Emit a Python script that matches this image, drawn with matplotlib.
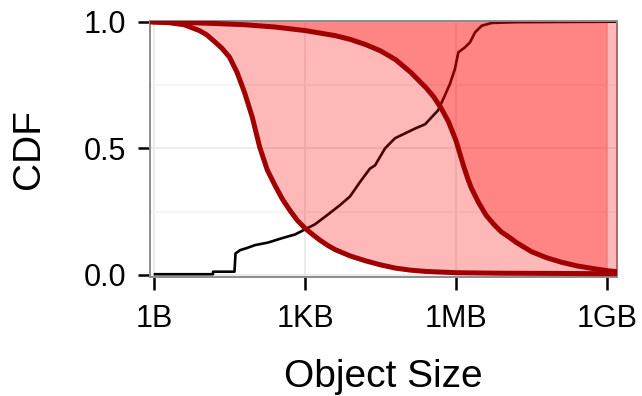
import numpy as np
import matplotlib.pyplot as plt

# object sizes as log2(bytes); 0 = 1B, 10 = 1KB, 20 = 1MB, 30 = 1GB
lo_exp = [-0.26, 0, 1, 2, 3, 3.5, 4, 4.5, 5, 5.5, 6, 6.5, 7, 7.5, 8, 8.5, 9,
          9.5, 10, 10.5, 11, 11.5, 12, 13, 14, 15, 16, 17, 18, 20, 23, 30.66]
lo_frac = [1.0, 0.999, 0.996, 0.988, 0.965, 0.948, 0.922, 0.895, 0.86, 0.8,
           0.72, 0.625, 0.505, 0.415, 0.355, 0.3, 0.255, 0.215, 0.185, 0.16,
           0.137, 0.117, 0.1, 0.075, 0.056, 0.04, 0.027, 0.019, 0.014, 0.009,
           0.007, 0.005]

hi_exp = [-0.26, 0, 2, 4, 6, 8, 10, 12, 13, 14, 15, 16, 17, 18, 18.5, 19,
          19.5, 20, 20.25, 20.5, 20.75, 21, 21.5, 22, 22.5, 23, 23.5, 24, 25,
          26, 27, 28, 29, 30, 30.66]
hi_frac = [1.0, 0.999, 0.997, 0.993, 0.988, 0.979, 0.965, 0.945, 0.93, 0.91,
           0.885, 0.85, 0.8, 0.74, 0.705, 0.66, 0.605, 0.53, 0.48, 0.43,
           0.385, 0.345, 0.285, 0.235, 0.2, 0.17, 0.15, 0.128, 0.092, 0.068,
           0.05, 0.036, 0.026, 0.017, 0.013]

obj_exp = [0.07, 3.91, 3.91, 5.33, 5.4, 5.7, 6.23, 6.69, 7.55, 8.46, 9.34,
           10.0, 10.66, 11.46, 12.32, 12.98, 13.64, 14.3, 14.64, 15.3, 15.96,
           17.28, 17.95, 18.81, 19.27, 19.6, 19.93, 20.15, 20.6, 20.93, 21.26,
           21.7, 22.36, 23.9, 30.53]
obj_cdf = [0.003, 0.003, 0.013, 0.013, 0.085, 0.098, 0.108, 0.118, 0.128,
           0.145, 0.16, 0.18, 0.2, 0.236, 0.276, 0.31, 0.367, 0.42, 0.433, 0.5,
           0.54, 0.578, 0.595, 0.65, 0.71, 0.755, 0.814, 0.879, 0.899, 0.919,
           0.958, 0.984, 0.995, 0.998, 1.0]

tick_exp = [0, 10, 20, 30]
tick_labels = ["1B", "1KB", "1MB", "1GB"]

plt.rcParams['font.family'] = ['Liberation Sans', 'DejaVu Sans']

lo_x = 2.0 ** np.array(lo_exp)
hi_x = 2.0 ** np.array(hi_exp)
obj_x = 2.0 ** np.array(obj_exp)
hi_mask = np.array(hi_exp) <= 30

fig = plt.figure(figsize=(6.42, 3.96), dpi=100)
ax = fig.add_axes([0.2336, 0.3013, 0.7275, 0.6464])
ax.set_xscale('log', base=2)

ax.plot(obj_x, obj_cdf, color='black', lw=1.9, zorder=2)
ax.fill_between(lo_x, lo_frac, 1.0, color='red', alpha=0.28, lw=0, zorder=3)
ax.fill_between(hi_x[hi_mask], np.array(hi_frac)[hi_mask], 1.0,
                color='red', alpha=0.28, lw=0, zorder=3)
ax.plot(lo_x, lo_frac, color='#a00000', lw=3.6, zorder=4,
        solid_capstyle='butt', solid_joinstyle='round')
ax.plot(hi_x, hi_frac, color='#a00000', lw=3.6, zorder=4,
        solid_capstyle='butt', solid_joinstyle='round')

ax.set_xlim(2.0 ** -0.265, 2.0 ** 30.66)
ax.set_ylim(-0.0067, 1.0039)

ax.set_xticks([2.0 ** e for e in tick_exp])
ax.set_xticklabels(tick_labels)
ax.xaxis.set_minor_locator(plt.NullLocator())
ax.set_yticks([0.0, 0.5, 1.0])
ax.set_yticklabels(["0.0", "0.5", "1.0"])
ax.set_yticks([0.25, 0.75], minor=True)

ax.set_axisbelow(True)
ax.grid(True, which='major', color='#e6e6e6', lw=1.1)
ax.grid(True, which='minor', axis='y', color='#f3f3f3', lw=1.1)

ax.tick_params(axis='both', which='major', labelsize=22, length=9,
               width=1.8, color='black')
ax.tick_params(axis='x', pad=11)
ax.tick_params(axis='y', pad=8)
ax.tick_params(axis='y', which='minor', length=0)

for s in ax.spines.values():
    s.set_color('#8c8c8c')
    s.set_linewidth(1.4)

ax.set_xlabel("Object Size", fontsize=28)
ax.set_ylabel("CDF", fontsize=28)
ax.xaxis.set_label_coords(0.5, -0.32)
ax.yaxis.set_label_coords(-0.22, 0.5)

fig.savefig("out.png", dpi=100)
